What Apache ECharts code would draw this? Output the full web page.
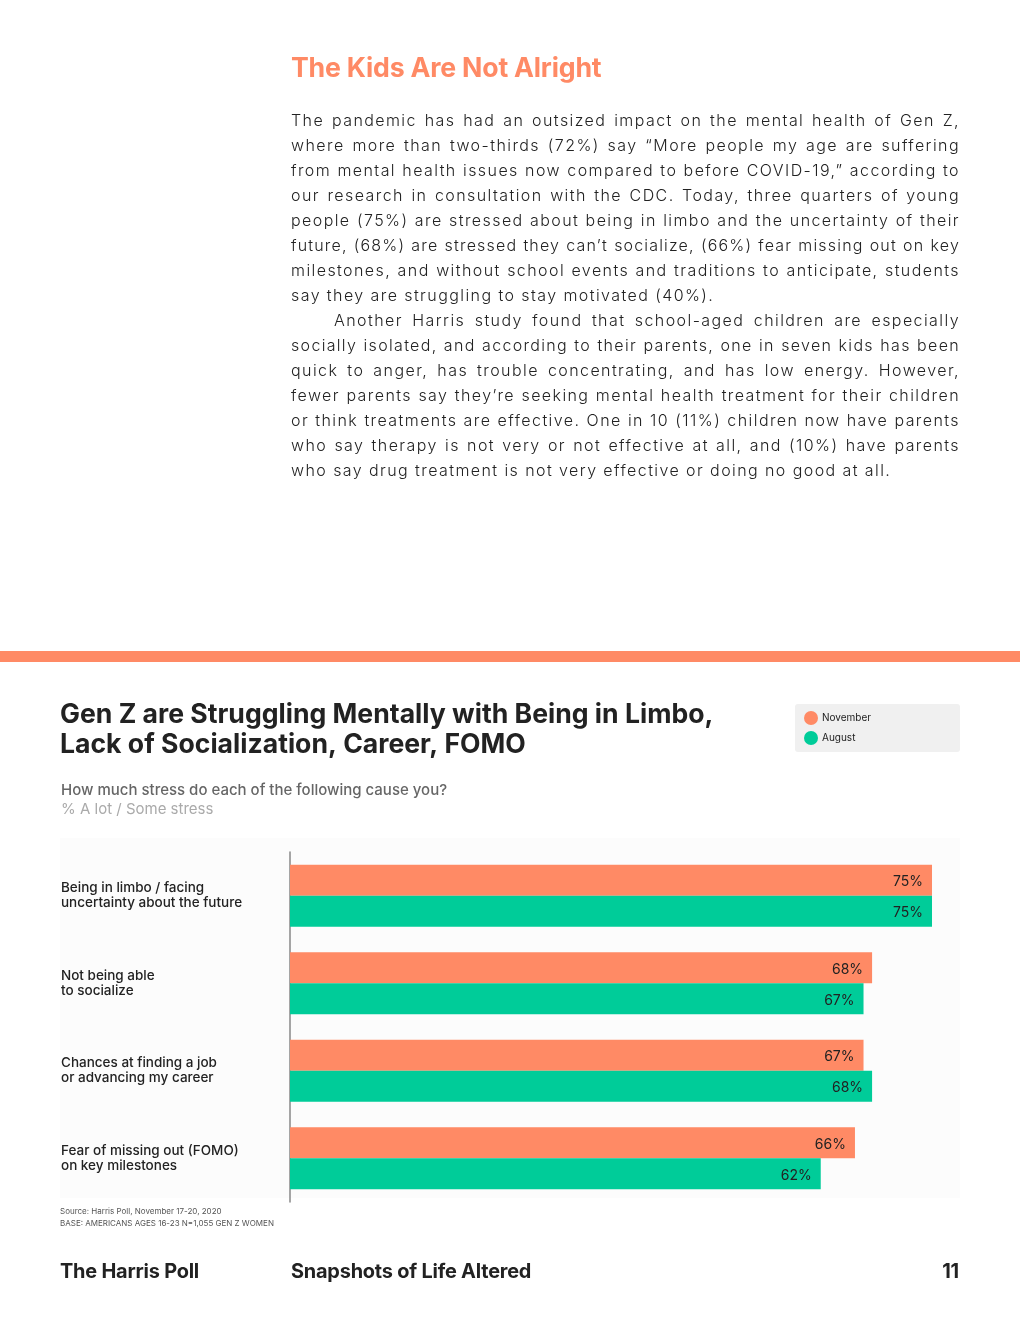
<!DOCTYPE html>
<html>
<head>
<meta charset="utf-8">
<script src="https://cdn.jsdelivr.net/npm/echarts@6/dist/echarts.min.js"></script>
<style>
  html, body { margin: 0; padding: 0; background: #fff; }
  #page { position: relative; width: 1020px; height: 1320px; overflow: hidden; }
  #chart { position: absolute; left: 0; top: 0; width: 1020px; height: 1320px; }
  #article { position: absolute; left: 291px; top: 50px; width: 669px; font-family: Inter, Roboto, sans-serif; color: #222; }
  #article h1 { margin: 0; font-size: 26.7px; font-weight: 700; color: #FF8A65; line-height: 34px; letter-spacing: -0.2px; }
  #body { margin-top: 24px; font-size: 16px; font-weight: 300; letter-spacing: 1.42px; line-height: 25px; }
  #body .l { text-align: justify; text-align-last: justify; white-space: nowrap; }
  #body .e { text-align: left; white-space: nowrap; }
  #body .ind { padding-left: 43px; }
  .foot { position: absolute; top: 1258px; font-family: Inter, Roboto, sans-serif; font-weight: 700; font-size: 19.9px; color: #222; line-height: 26px; letter-spacing: -0.2px; }
</style>
</head>
<body>
<div id="page">
  <div id="chart"></div>
  <div id="article">
    <h1>The Kids Are Not Alright</h1>
    <div id="body"></div>
  </div>
  <div class="foot" style="left:60px;">The Harris Poll</div>
  <div class="foot" style="left:291px;">Snapshots of Life Altered</div>
  <div class="foot" style="right:61px;">11</div>
</div>
<script>
const articleLines = [
  "The pandemic has had an outsized impact on the mental health of Gen Z,",
  "where more than two-thirds (72%) say “More people my age are suffering",
  "from mental health issues now compared to before COVID-19,” according to",
  "our research in consultation with the CDC. Today, three quarters of young",
  "people (75%) are stressed about being in limbo and the uncertainty of their",
  "future, (68%) are stressed they can’t socialize, (66%) fear missing out on key",
  "milestones, and without school events and traditions to anticipate, students",
  "say they are struggling to stay motivated (40%).",
  "Another Harris study found that school-aged children are especially",
  "socially isolated, and according to their parents, one in seven kids has been",
  "quick to anger, has trouble concentrating, and has low energy. However,",
  "fewer parents say they’re seeking mental health treatment for their children",
  "or think treatments are effective. One in 10 (11%) children now have parents",
  "who say therapy is not very or not effective at all, and (10%) have parents",
  "who say drug treatment is not very effective or doing no good at all."
];
const lastLines = [7, 14];
const indentLines = [8];
const bodyEl = document.getElementById('body');
articleLines.forEach((t, i) => {
  const d = document.createElement('div');
  d.className = 'e' + (indentLines.includes(i) ? ' ind' : '');
  const s = document.createElement('span');
  s.textContent = t;
  d.appendChild(s);
  bodyEl.appendChild(d);
  // measure natural width (left aligned) and tighten spacing if the line would overflow
  const avail = 669 - (indentLines.includes(i) ? 43 : 0);
  let ls = 1.42;
  while (s.getBoundingClientRect().width > avail - 3 && ls > 0) {
    ls -= 0.05;
    d.style.letterSpacing = ls.toFixed(2) + 'px';
  }
  if (!lastLines.includes(i)) d.className = 'l' + (indentLines.includes(i) ? ' ind' : '');
});

const categories = [
  "Being in limbo / facing\nuncertainty about the future",
  "Not being able\nto socialize",
  "Chances at finding a job\nor advancing my career",
  "Fear of missing out (FOMO)\non key milestones"
];
const seriesNames = ["November", "August"];
const novemberValues = [75, 68, 67, 66];
const augustValues = [75, 67, 68, 62];
const colors = { November: "#FF8A65", August: "#00CC99" };

const chart = echarts.init(document.getElementById('chart'), null, { renderer: 'canvas' });
const font = 'Inter, Roboto, sans-serif';

const option = {
  animation: false,
  backgroundColor: '#ffffff',
  grid: { left: 290, top: 852, width: 670, height: 350, containLabel: false },
  xAxis: {
    type: 'value', min: 0, max: 78.27,
    show: false
  },
  yAxis: {
    type: 'category', data: categories, inverse: true,
    axisLine: { show: true, lineStyle: { color: '#888', width: 1.5 } },
    axisTick: { show: false },
    axisLabel: {
      align: 'left', margin: 229, fontFamily: font, fontSize: 13.5, fontWeight: 500, color: '#222', lineHeight: 15
    }
  },
  graphic: [
    { type: 'rect', z: -10, silent: true, shape: { x: 60, y: 838, width: 900, height: 360 }, style: { fill: '#fcfcfc' } },
    { type: 'rect', shape: { x: 0, y: 651, width: 1020, height: 11 }, style: { fill: '#FF8A65' } },
    { type: 'text', left: 60, top: 700, style: { text: 'Gen Z are Struggling Mentally with Being in Limbo,\nLack of Socialization, Career, FOMO', font: '700 26.6px ' + font, fill: '#222', lineHeight: 30 } },
    { type: 'text', left: 61, top: 783, style: { text: 'How much stress do each of the following cause you?', font: '500 15px ' + font, fill: '#666' } },
    { type: 'text', left: 61, top: 802, style: { text: '% A lot / Some stress', font: '400 15px ' + font, fill: '#aaa' } },
    { type: 'rect', shape: { x: 795, y: 704, width: 165, height: 48, r: 3 }, style: { fill: '#f0f0f0' } },
    { type: 'text', left: 60, top: 1208, style: { text: 'Source: Harris Poll, November 17-20, 2020', font: '400 8px ' + font, fill: '#555' } },
    { type: 'text', left: 60, top: 1220, style: { text: 'BASE: AMERICANS AGES 16-23 N=1,055 GEN Z WOMEN', font: '400 8px ' + font, fill: '#555' } }
  ],
  legend: {
    orient: 'vertical', left: 799, top: 706, itemGap: 6,
    icon: 'circle', itemWidth: 14, itemHeight: 14,
    textStyle: { fontFamily: font, fontSize: 10, color: '#222', padding: [0, 0, 0, -1] },
    data: seriesNames
  },
  series: [
    {
      name: 'November', type: 'bar', data: novemberValues, barWidth: 31, barGap: '0%',
      itemStyle: { color: colors.November },
      label: { show: true, position: 'insideRight', distance: 9, offset: [0, 2], formatter: '{c}%', fontFamily: font, fontSize: 14, color: '#222' }
    },
    {
      name: 'August', type: 'bar', data: augustValues, barWidth: 31, barGap: '0%',
      itemStyle: { color: colors.August },
      label: { show: true, position: 'insideRight', distance: 9, offset: [0, 2], formatter: '{c}%', fontFamily: font, fontSize: 14, color: '#222' }
    }
  ]
};
chart.setOption(option);
</script>
</body>
</html>
